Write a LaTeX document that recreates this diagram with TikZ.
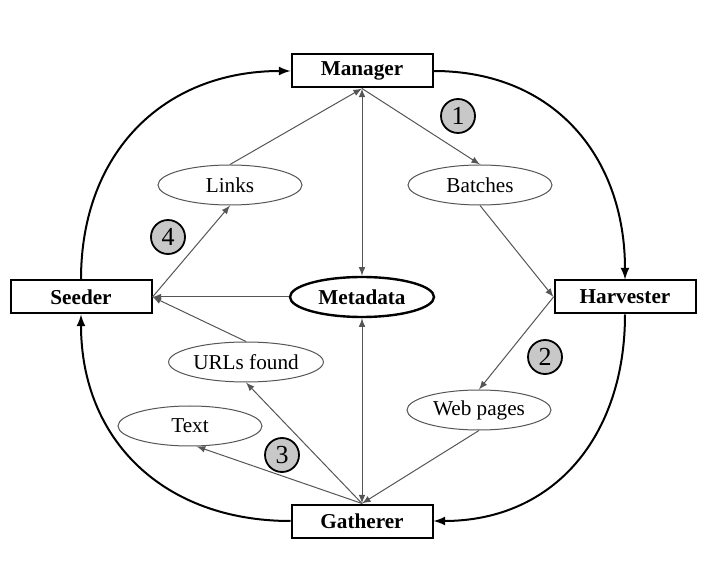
\documentclass[tikz,border=0pt]{standalone}
\usepackage{fontspec}
\setmainfont{Liberation Serif}
\usepackage{tikz}
\usetikzlibrary{arrows,shapes.geometric}
\definecolor{linegray}{HTML}{555555}
\definecolor{numgray}{HTML}{C8C8C8}
\tikzstyle{module} = [draw, line width=1pt, minimum width=70.5pt,
  minimum height=16.5pt, inner sep=2pt, font=\fontsize{10.6}{12}\selectfont\bfseries]
\tikzstyle{store} = [draw=linegray, ellipse, line width=0.5pt, minimum width=72pt,
  minimum height=20pt, inner sep=1pt, font=\fontsize{10.6}{12}\selectfont]
\tikzstyle{stepnum} = [draw, circle, line width=0.9pt, fill=numgray,
  minimum size=17pt, inner sep=0pt, font=\fontsize{13}{14}\selectfont]
\tikzstyle{flow} = [draw=linegray, line width=0.5pt, ->, >=latex]
\tikzstyle{biflow} = [draw=linegray, line width=0.5pt, <->, >=latex]
\tikzstyle{cycleflow} = [line width=1pt, ->, >=latex, looseness=1.1]

\begin{document}
\begin{tikzpicture}[x=0.5pt,y=-0.5pt]
    \useasboundingbox (0,0) rectangle (712,571);
    % the four modules
    \node[module] (manager) at (362,71) {Manager};
    \node[module] (seeder) at (81,297) {Seeder};
    \node[module] (harvester) at (625,297) {Harvester};
    \node[module] (gatherer) at (362,521) {Gatherer};
    % data in between
    \node[store,draw=black,line width=1.2pt,font=\fontsize{10.6}{12}\selectfont\bfseries]
        (meta) at (362,297) {Metadata};
    \node[store] (links) at (230,185) {Links};
    \node[store] (batches) at (480,185) {Batches};
    \node[store] (urls) at (246,362) {URLs found};
    \node[store] (pages) at (479,410) {Web pages};
    \node[store] (text) at (190,426) {Text};
    % steps
    \node[stepnum] (one) at (458,116) {1};
    \node[stepnum] (two) at (545,357) {2};
    \node[stepnum] (three) at (282,455) {3};
    \node[stepnum] (four) at (168,237) {4};
    % outer cycle
    \draw[cycleflow] (seeder.north) to[out=90,in=180] (manager.west);
    \draw[cycleflow] (manager.east) to[out=0,in=90] (harvester.north);
    \draw[cycleflow] (harvester.south) to[out=-90,in=0] (gatherer.east);
    \draw[cycleflow] (gatherer.west) to[out=180,in=-90] (seeder.south);
    % inner flows
    \draw[biflow] (meta) -- (manager);
    \draw[biflow] (meta) -- (gatherer);
    \draw[flow] (manager.south) -- (batches.north);
    \draw[flow] (batches.south) -- (harvester.west);
    \draw[flow] (harvester.west) -- (pages.north);
    \draw[flow] (pages.south) -- (gatherer.north);
    \draw[flow] (gatherer.north) -- (text.-72);
    \draw[flow] (gatherer.north) -- (urls.south);
    \draw[flow] (urls.north) -- (seeder.east);
    \draw[flow] (meta) -- (seeder);
    \draw[flow] (seeder.east) -- (links.south);
    \draw[flow] (links.north) -- (manager.south);
\end{tikzpicture}
\end{document}
